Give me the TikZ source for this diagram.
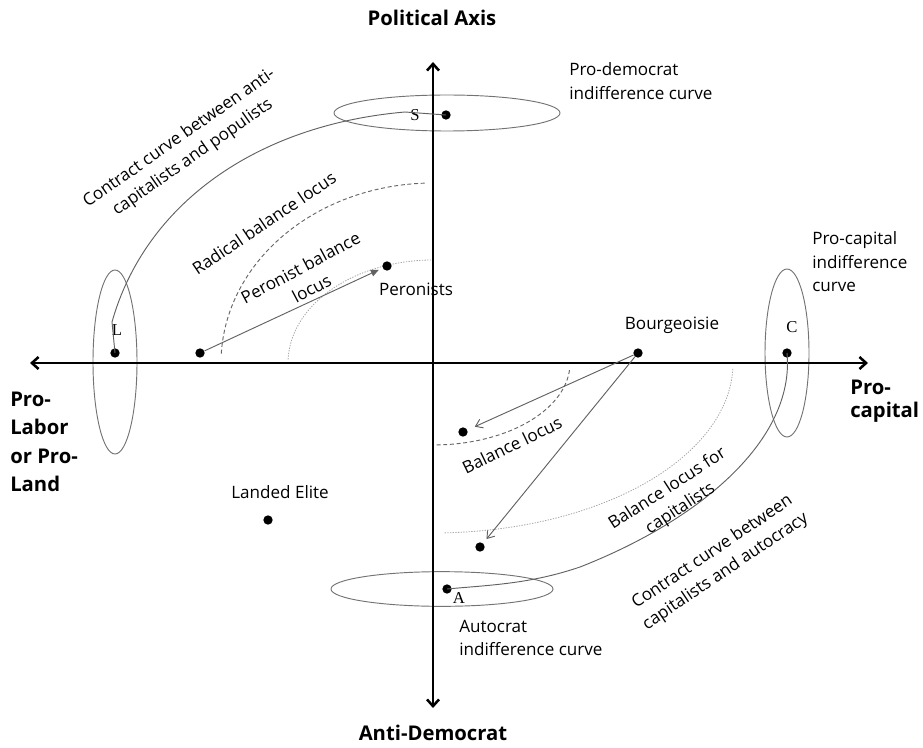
\documentclass[tikz,border=0pt]{standalone}
\usepackage{fontspec}
\setmainfont{Open Sans}
\newfontfamily\letterfont{Liberation Serif}
\usetikzlibrary{arrows.meta,shapes.geometric}
\begin{document}
\begin{tikzpicture}[x=0.75pt,y=-0.75pt,
  axisline/.style={line width=1.9pt,
    {Straight Barb[length=5pt,width=9pt,line width=1.9pt]}-{Straight Barb[length=5pt,width=9pt,line width=1.9pt]}},
  curveline/.style={draw=black!62, line width=0.7pt},
  indiff/.style={ellipse, draw=black!55, line width=0.7pt, inner sep=0pt},
  dashloc/.style={draw=black!60, line width=0.7pt, dash pattern=on 3pt off 2pt},
  dotloc/.style={draw=black!35, line width=0.6pt, dash pattern=on 1pt off 1pt},
  pt/.style={circle, fill=black, inner sep=0pt, minimum size=7pt},
  lbl/.style={font=\fontsize{12.8}{17.6}\selectfont, inner sep=0pt},
  ttl/.style={font=\bfseries\fontsize{15.2}{19}\selectfont, inner sep=0pt},
  letter/.style={font=\letterfont\fontsize{12.5}{14}\selectfont, inner sep=0pt},
  openarrow/.style={draw=black!62, line width=0.7pt, -{Straight Barb[length=5pt,width=7pt,line width=0.7pt]}},
  filledarrow/.style={draw=black!62, line width=0.7pt, -{Triangle[length=6pt,width=5pt]}}
]
\useasboundingbox (0,0) rectangle (923,748);

% loci
\draw[dashloc] plot[domain=3:88, samples=60] ({433-212*cos(\x)}, {363-180*sin(\x)});
\draw[dotloc] plot[domain=2:90, samples=60] ({433-145*cos(\x)}, {363-103*sin(\x)});
\draw[dashloc] plot[domain=5:90, samples=50] ({433+137*cos(\x)}, {363+82*sin(\x)});
\draw[dotloc] plot[domain=2:88, samples=70] ({433+300*cos(\x)}, {363+170*sin(\x)});

% indifference curves
\node[indiff, minimum width=169.5pt, minimum height=27pt] (ellS) at (447,113) {};
\node[indiff, minimum width=33pt, minimum height=138pt] (ellL) at (115,362) {};
\node[indiff, minimum width=33pt, minimum height=126pt] (ellC) at (787,353) {};
\node[indiff, minimum width=166.5pt, minimum height=26pt] (ellA) at (442,589) {};

% axes
\coordinate (ytop) at (433,62);
\coordinate (ybot) at (433,708);
\coordinate (xleft) at (30,363);
\coordinate (xright) at (868,363);
\draw[axisline] (ybot) -- (ytop);
\draw[axisline] (xleft) -- (xright);

% points
\node[pt] (dotS) at (446,115) {};
\node[pt] (dotL) at (115,353) {};
\node[pt] (dotC) at (787,353) {};
\node[pt] (dotA) at (447,589) {};
\node[pt] (dotP0) at (200,353) {};
\node[pt] (dotPer) at (387,266) {};
\node[pt] (dotBour) at (638,353) {};
\node[pt] (dotBal) at (463,432) {};
\node[pt] (dotCap) at (480,547) {};
\node[pt] (dotLand) at (268,520) {};

% letters
\node[letter] (letS) at (415,115) {S};
\node[letter] (letL) at (117,330) {L};
\node[letter] (letC) at (792,327) {C};
\node[letter] (letA) at (459,598) {A};

% contract curves
\coordinate (cL) at (112,322);
\coordinate (cS) at (405,112);
\draw[curveline] (dotL.center) -- (cL) .. controls (145,205) and (255,125) .. (cS) -- (dotS.center);
\coordinate (cC) at (580,567);
\draw[curveline] (dotC.center) .. controls (795,440) and (700,520) .. (cC) .. controls (530,584) and (490,585) .. (dotA.center);

% arrows
\draw[filledarrow, shorten >=3pt] (dotP0) -- (dotPer);
\draw[openarrow, shorten >=6pt] (dotBour) -- (dotBal);
\draw[openarrow, shorten >=4pt] (dotBour) -- (dotCap);

% titles
\node[ttl] (tTop) at (432,18) {Political Axis};
\node[ttl] (tBot) at (433,733) {Anti-Democrat};
\node[ttl, anchor=west, align=left, font=\bfseries\fontsize{15.2}{21.4}\selectfont] (tLeft) at (10,442) {Pro-\\Labor\\or Pro-\\Land};
\node[ttl, anchor=west, align=left, font=\bfseries\fontsize{15.2}{17.3}\selectfont] (tRight) at (850,401) {Pro-\\capital};

% labels
\node[lbl, anchor=west, align=left] (lSd) at (569,81) {Pro-democrat\\indifference curve};
\node[lbl, anchor=west, align=left] (lCd) at (812,262) {Pro-capital\\indifference\\curve};
\node[lbl, anchor=west, align=left] (lAd) at (459,638) {Autocrat\\indifference curve};
\node[lbl] (lPer) at (416,289) {Peronists};
\node[lbl] (lBour) at (672,325) {Bourgeoisie};
\node[lbl] (lLand) at (280,492) {Landed Elite};

\node[lbl, align=center, rotate=35] (lCCap) at (186,148) {Contract curve between anti-\\capitalists and populists};
\node[lbl, rotate=34] (lRad) at (264,223) {Radical balance locus};
\node[lbl, align=center, rotate=28] (lPbl) at (306,278) {Peronist balance\\locus};
\node[lbl, rotate=26] (lBal) at (512,445) {Balance locus};
\node[lbl, align=center, rotate=33] (lBcap) at (674,499) {Balance locus for\\capitalists};
\node[lbl, align=center, rotate=34] (lCaut) at (719,562) {Contract curve between\\capitalists and autocracy};
\end{tikzpicture}
\end{document}
